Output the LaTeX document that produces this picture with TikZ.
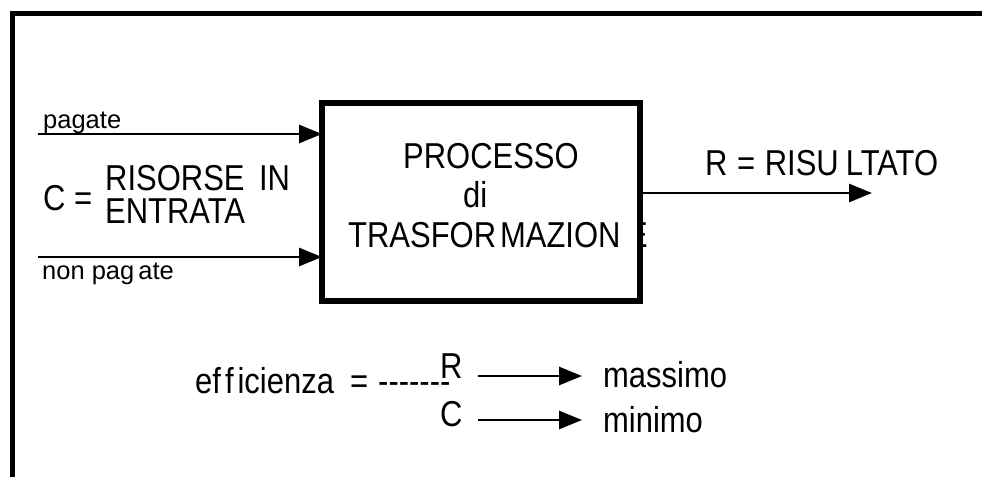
\documentclass[tikz,border=0pt]{standalone}
\usepackage{fontspec}
\setmainfont{Liberation Sans}
\newfontfamily\bigf{Liberation Sans}[FakeStretch=0.86]
\usetikzlibrary{arrows.meta}
\begin{document}
\begin{tikzpicture}[x=1pt,y=-1pt,
  big/.style={font=\bigf\fontsize{36}{42}\selectfont, inner sep=0pt, anchor=base west},
  small/.style={font=\fontsize{25.5}{30}\selectfont, inner sep=0pt, anchor=base west},
  arr/.style={line width=2.8pt, -{Triangle[length=23pt,width=18pt]}},
  frameline/.style={line width=5pt, line join=miter},
  procbox/.style={draw, line width=6pt, minimum width=318pt, minimum height=198pt, inner sep=0pt, outer sep=0pt}]
\useasboundingbox (0,0) rectangle (982,477);
\fill[white] (0,0) rectangle (982,477);
% frame
\coordinate (fb) at (12,477);
\coordinate (fc) at (12,13);
\coordinate (fr) at (982,13);
\draw[frameline] (fb) -- (fc) -- (fr);
% process box
\node[procbox] (proc) at (481,202) {};
\node[big] (proc1) at (403,168) {PROCESSO};
\node[big] (proc2) at (463,207) {di};
\node[big] (proc3) at (348,247) {TRASFOR\kern4pt MAZION};
\begin{scope}
  \clip (643,200) rectangle (665,260);
  \node[big] (eclip) at (627,247) {E};
\end{scope}
% inputs
\coordinate (pa) at (38,134);
\coordinate (np) at (38,257);
\draw[arr] (pa) -- (pa -| proc.west);
\draw[arr] (np) -- (np -| proc.west);
\node[small] (lpag) at (43,128) {pagate};
\node[small] (lnpag) at (42,279) {non pag\kern4pt ate};
\node[big] (lc) at (43,210) {C =};
\node[big] (lris) at (105,190) {RISORSE\hspace{6pt} IN};
\node[big] (lent) at (105,223) {ENTRATA};
% output
\coordinate (out) at (872,193);
\draw[arr] (proc.east |- out) -- (out);
\node[big] (lrisu) at (705,175) {R \kern1pt= \kern1pt RISU\kern7pt LTATO};
% efficiency
\node[big] (eff) at (195,393) {ef\kern4pt f\kern4pt icienza};
\node[big] (effeq) at (350,393) {=};
\node[big] (effdash) at (378,393) {-{}-{}-{}-{}-{}-{}-};
\node[big] (er) at (440,378) {R};
\node[big] (ec) at (440,426) {C};
\coordinate (ea1) at (478,376);
\coordinate (eb1) at (582,376);
\coordinate (ea2) at (478,420);
\coordinate (eb2) at (582,420);
\draw[arr] (ea1) -- (eb1);
\draw[arr] (ea2) -- (eb2);
\node[big] (emax) at (603,387) {massimo};
\node[big] (emin) at (603,432) {minimo};
\end{tikzpicture}
\end{document}
